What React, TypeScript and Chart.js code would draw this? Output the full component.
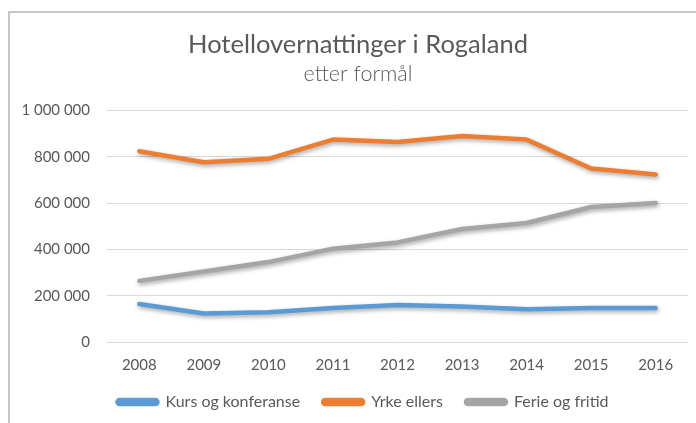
import React, { useEffect, useRef } from "react";
import { Chart, registerables } from "chart.js";

Chart.register(...registerables);

const years = ["2008", "2009", "2010", "2011", "2012", "2013", "2014", "2015", "2016"];
const kursOgKonferanse = [164000, 123000, 128000, 147000, 160000, 153000, 141000, 147000, 147000];
const yrkeEllers = [824000, 776000, 791000, 874000, 864000, 889000, 874000, 749000, 723000];
const ferieOgFritid = [264000, 304000, 345000, 403000, 430000, 488000, 514000, 583000, 600000];
const seriesNames = ["Kurs og konferanse", "Yrke ellers", "Ferie og fritid"];
const seriesColors = ["#5B9BD5", "#ED7D31", "#A5A5A5"];
const titleText = "Hotellovernattinger i Rogaland";
const subtitleText = "etter formål";

const FONT = "Lato, 'Open Sans', 'DejaVu Sans', sans-serif";
const TEXT = "#595959";

const shadowPlugin = {
  id: "lineShadow",
  beforeDatasetsDraw(chart: any) {
    const ctx = chart.ctx;
    ctx.save();
    ctx.shadowColor = "rgba(0,0,0,0.35)";
    ctx.shadowBlur = 4;
    ctx.shadowOffsetX = 1;
    ctx.shadowOffsetY = 2;
  },
  afterDatasetsDraw(chart: any) {
    chart.ctx.restore();
  },
};

const boxShift = {
  id: "boxShift",
  afterLayout(chart: any) {
    const shifts: [any, number][] = [
      [chart.legend, 15],
      [chart.titleBlock, 10],
    ];
    for (const box of chart.boxes) {
      if (box === chart.legend) {
        box.left += 15;
        box.right += 15;
      } else if (box.options && (box.options.text === titleText || box.options.text === subtitleText)) {
        box.left += 10;
        box.right += 10;
      }
    }
    void shifts;
  },
};

function fmt(v: number) {
  return String(Math.round(v)).replace(/\B(?=(\d{3})+(?!\d))/g, " ");
}

export default function App() {
  const ref = useRef<HTMLCanvasElement | null>(null);
  useEffect(() => {
    if (!ref.current) return;
    const data = [kursOgKonferanse, yrkeEllers, ferieOgFritid];
    const chart = new Chart(ref.current, {
      type: "line",
      data: {
        labels: years,
        datasets: data.map((d, i) => ({
          label: seriesNames[i],
          data: d,
          borderColor: seriesColors[i],
          backgroundColor: seriesColors[i],
          borderWidth: 4.5,
          borderCapStyle: "round",
          borderJoinStyle: "round",
          pointRadius: 0,
          pointHoverRadius: 0,
          tension: 0,
          fill: false,
        })),
      },
      options: {
        animation: false,
        responsive: false,
        maintainAspectRatio: false,
        layout: { padding: { left: 8, right: 8, top: 0, bottom: 3 } },
        plugins: {
          tooltip: { enabled: false },
          title: {
            display: true,
            text: titleText,
            color: TEXT,
            font: { family: FONT, size: 25.5, weight: "normal" as any },
            padding: { top: 29, bottom: 0 },
          },
          subtitle: {
            display: true,
            text: subtitleText,
            color: TEXT,
            font: { family: FONT, size: 21.5, weight: "300" as any },
            padding: { top: 2, bottom: 23 },
          },
          legend: {
            position: "bottom",
            labels: {
              color: TEXT,
              font: { family: FONT, size: 16 },
              boxWidth: 40,
              boxHeight: 4,
              useBorderRadius: true,
              borderRadius: 2,
              padding: 23,
            },
          },
        },
        scales: {
          x: {
            offset: true,
            grid: { display: false, drawTicks: false },
            border: { display: false },
            ticks: { color: TEXT, font: { family: FONT, size: 15 }, padding: 14 },
            afterFit(scale: any) {
              scale.height = 29;
            },
          },
          y: {
            min: 0,
            max: 1000000,
            grid: { color: "#D9D9D9", lineWidth: 1, drawTicks: false },
            border: { display: false },
            ticks: {
              stepSize: 200000,
              color: TEXT,
              font: { family: FONT, size: 15 },
              padding: 17,
              callback: (v: any) => fmt(Number(v)),
            },
            afterFit(scale: any) {
              scale.width = 99;
            },
          },
        },
      },
      plugins: [shadowPlugin, boxShift],
    });
    return () => chart.destroy();
  }, []);

  return (
    <div style={{ position: "absolute", left: 0, top: 0, width: 696, height: 423, overflow: "hidden", background: "#fff" }}>
      <div
        style={{
          position: "absolute",
          left: 8,
          top: 11,
          right: -10,
          bottom: -10,
          borderLeft: "2px solid #c6c6c6",
          borderTop: "2px solid #c6c6c6",
        }}
      />
      <canvas ref={ref} width={696} height={423} style={{ position: "absolute", left: 0, top: 0 }} />
    </div>
  );
}
